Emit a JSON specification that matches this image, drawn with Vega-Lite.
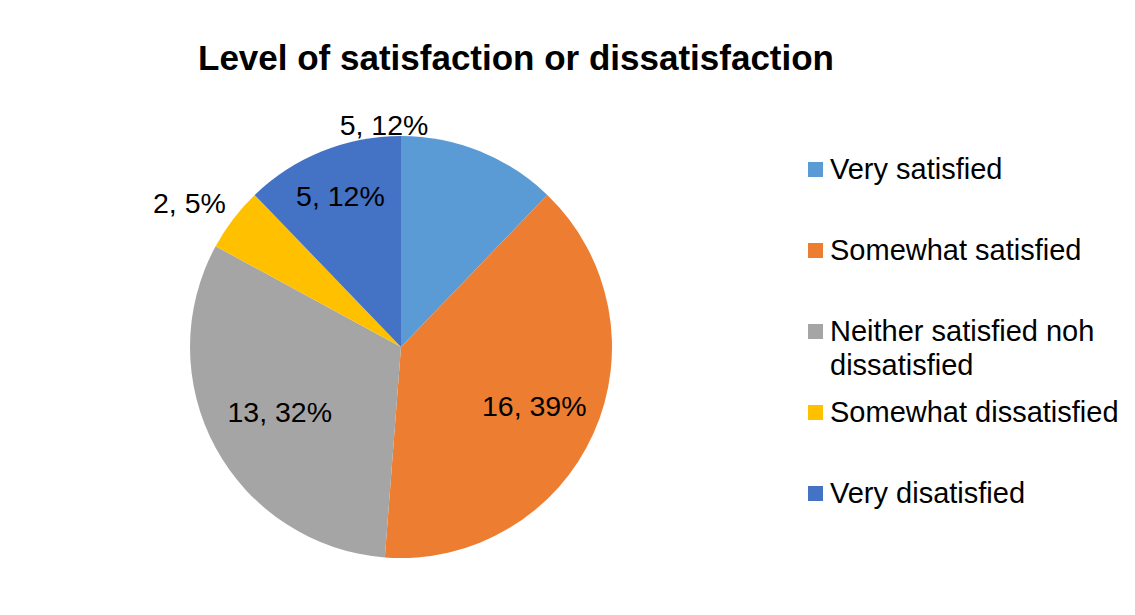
{
  "$schema": "https://vega.github.io/schema/vega-lite/v6.json",
  "width": 802,
  "height": 536,
  "autosize": {"type": "none"},
  "padding": {"left": 0, "top": 79, "right": 333, "bottom": 0},
  "background": "white",
  "config": {
    "view": {"stroke": null},
    "font": "Liberation Sans",
    "style": {"guide-label": {"lineHeight": 34}}
  },
  "title": {
    "text": "Level of satisfaction or dissatisfaction",
    "font": "Liberation Sans",
    "fontSize": 35,
    "fontWeight": "bold",
    "color": "black",
    "anchor": "start",
    "frame": "group",
    "dx": 198,
    "offset": 2
  },
  "data": {
    "values": [
      {"category": "Very satisfied", "count": 5, "rank": 1, "label": "5, 12%"},
      {"category": "Somewhat satisfied", "count": 16, "rank": 2, "label": "16, 39%"},
      {"category": "Neither satisfied noh dissatisfied", "count": 13, "rank": 3, "label": "13, 32%"},
      {"category": "Somewhat dissatisfied", "count": 2, "rank": 4, "label": "2, 5%"},
      {"category": "Very disatisfied", "count": 5, "rank": 5, "label": "5, 12%"}
    ]
  },
  "encoding": {
    "theta": {"field": "count", "type": "quantitative", "stack": true},
    "order": {"field": "rank", "type": "quantitative"},
    "detail": {"field": "category", "type": "nominal"}
  },
  "layer": [
    {
      "mark": {"type": "arc", "outerRadius": 211, "strokeWidth": 0},
      "encoding": {
        "color": {
          "field": "category",
          "type": "nominal",
          "scale": {
            "domain": ["Very satisfied", "Somewhat satisfied", "Neither satisfied noh dissatisfied", "Somewhat dissatisfied", "Very disatisfied"],
            "range": ["#5B9BD5", "#ED7D31", "#A5A5A5", "#FFC000", "#4472C4"]
          },
          "legend": {
            "title": null,
            "orient": "none",
            "legendX": 801,
            "legendY": 76,
            "padding": 0,
            "symbolType": "square",
            "symbolSize": 225,
            "symbolStrokeWidth": 0,
            "labelFont": "Liberation Sans",
            "labelFontSize": 29,
            "labelColor": "black",
            "labelOffset": 0,
            "labelLimit": 500,
            "rowPadding": 17,
            "labelExpr": "datum.label == 'Neither satisfied noh dissatisfied' ? ['Neither satisfied noh', 'dissatisfied'] : [datum.label, ' ']"
          }
        }
      }
    },
    {
      "mark": {"type": "text", "radius": 146, "fontSize": 28.5, "font": "Liberation Sans", "color": "black"},
      "encoding": {
        "text": {"condition": {"test": "datum.rank == 2", "field": "label"}, "value": ""}
      }
    },
    {
      "mark": {"type": "text", "radius": 138, "fontSize": 28.5, "font": "Liberation Sans", "color": "black"},
      "encoding": {
        "text": {"condition": {"test": "datum.rank == 3", "field": "label"}, "value": ""}
      }
    },
    {
      "mark": {"type": "text", "radius": 162, "fontSize": 28.5, "font": "Liberation Sans", "color": "black"},
      "encoding": {
        "text": {"condition": {"test": "datum.rank == 5", "field": "label"}, "value": ""}
      }
    },
    {
      "mark": {"type": "text", "radius": 256, "dx": -8, "dy": 12, "fontSize": 28.5, "font": "Liberation Sans", "color": "black"},
      "encoding": {
        "text": {"condition": {"test": "datum.rank == 4", "field": "label"}, "value": ""}
      }
    },
    {
      "mark": {"type": "text", "radius": 222, "dx": -100, "dy": -15, "fontSize": 28.5, "font": "Liberation Sans", "color": "black"},
      "encoding": {
        "text": {"condition": {"test": "datum.rank == 1", "field": "label"}, "value": ""}
      }
    }
  ]
}
